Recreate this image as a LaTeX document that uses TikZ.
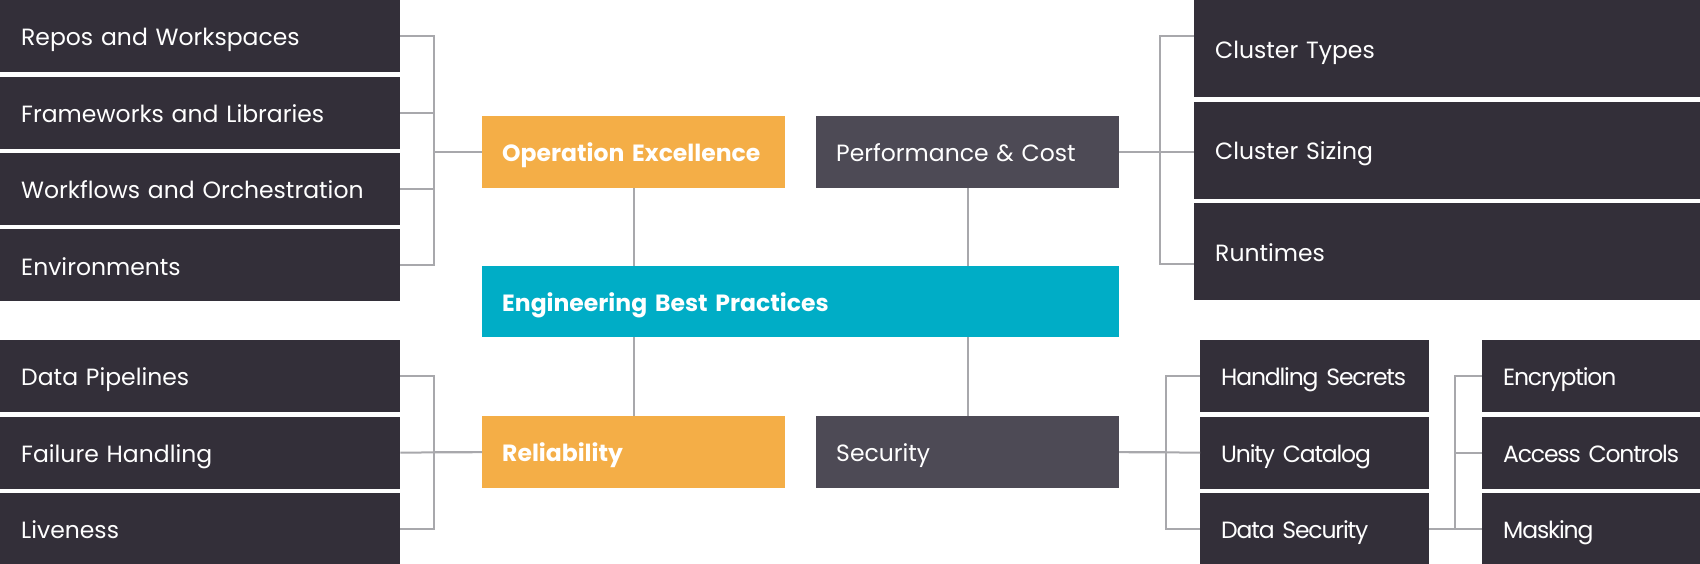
\documentclass[tikz,border=0pt]{standalone}
\usepackage{fontspec}
\setmainfont{Poppins}
\newfontfamily\tightfont[LetterSpace=-5]{Poppins}
\usetikzlibrary{positioning}
\definecolor{boxdark}{HTML}{332F39}
\definecolor{boxgrey}{HTML}{4D4A55}
\definecolor{bporange}{HTML}{F4AE47}
\definecolor{bpteal}{HTML}{00ADC6}
\definecolor{linegrey}{HTML}{A8A8AC}
\tikzstyle{item} = [rectangle, fill=boxdark, text=white, anchor=north west, inner ysep=0pt, inner xsep=21pt, minimum height=72pt, text height=19.5pt, text depth=0pt, align=left, font=\fontsize{23.5}{28}\selectfont]
\tikzstyle{leftitem} = [item, text width=358pt]
\tikzstyle{wideitem} = [item, text width=464pt, minimum height=97pt]
\tikzstyle{smallitem} = [item, text width=187pt, font=\tightfont\fontsize{23.5}{28}\selectfont]
\tikzstyle{tinyitem} = [item, text width=176pt, font=\tightfont\fontsize{23.5}{28}\selectfont]
\tikzstyle{pillar} = [rectangle, anchor=north west, inner ysep=0pt, inner xsep=20pt, minimum height=72pt, text height=19.5pt, text depth=0pt, text width=263pt, align=left, text=white, font=\bfseries\fontsize{23.5}{28}\selectfont]
\tikzstyle{conn} = [draw=linegrey, line width=2pt]

\begin{document}
\begin{tikzpicture}[x=1pt, y=-1pt]
\useasboundingbox (0,0) rectangle (1700,564);
\fill[white] (0,0) rectangle (1700,564);

% left, operation excellence
\node (repos) [leftitem] at (0,0) {Repos and Workspaces};
\node (frame) [leftitem, below=4pt of repos] {Frameworks and Libraries};
\node (work) [leftitem, below=4pt of frame] {Workflows and Orchestration};
\node (env) [leftitem, below=4pt of work] {Environments};

% left, reliability
\node (pipes) [leftitem] at (0,340) {Data Pipelines};
\node (fail) [leftitem, below=4pt of pipes] {Failure Handling};
\node (live) [leftitem, below=4pt of fail] {Liveness};

% middle
\node (opex) [pillar, fill=bporange] at (482,116) {Operation Excellence};
\node (perf) [pillar, fill=boxgrey, font=\fontsize{23.5}{28}\selectfont] at (816,116) {Performance \& Cost};
\node (eng) [pillar, fill=bpteal, text width=597pt, minimum height=71pt] at (482,266) {Engineering Best Practices};
\node (rel) [pillar, fill=bporange] at (482,416) {Reliability};
\node (sec) [pillar, fill=boxgrey, font=\fontsize{23.5}{28}\selectfont] at (816,416) {Security};

% right, performance and cost
\node (types) [wideitem] at (1194,0) {Cluster Types};
\node (sizing) [wideitem, below=4pt of types] {Cluster Sizing};
\node (runt) [wideitem, below=4pt of sizing] {Runtimes};

% right, security
\node (secrets) [smallitem] at (1200,340) {\mbox{Handling Secrets}};
\node (unity) [smallitem, below=4pt of secrets] {Unity Catalog};
\node (dsec) [smallitem, below=4pt of unity] {Data Security};
\node (encr) [tinyitem] at (1482,340) {Encryption};
\node (access) [tinyitem, below=4pt of encr] {\mbox{Access Controls}};
\node (mask) [tinyitem, below=4pt of access] {Masking};

\draw [conn] (repos.east) -- ++(34,0) |- (opex.west);
\draw [conn] (env.east) -- ++(34,0) |- (opex.west);
\draw [conn] (frame.east) -- ++(34,0);
\draw [conn] (work.east) -- ++(34,0);

\draw [conn] (pipes.east) -- ++(34,0) |- (rel.west);
\draw [conn] (live.east) -- ++(34,0) |- (rel.west);
\draw [conn] (fail.east) -- (rel.west);

\draw [conn] (opex.south) -- (opex.south |- eng.north);
\draw [conn] (perf.south) -- (perf.south |- eng.north);
\draw [conn] (rel.north) -- (rel.north |- eng.south);
\draw [conn] (sec.north) -- (sec.north |- eng.south);

\draw [conn] (perf.east) -- ++(41,0) |- ([yshift=12.5pt]types.west);
\draw [conn] (perf.east) -- ++(41,0) |- ([yshift=-12.5pt]runt.west);
\draw [conn] (perf.east) -- (perf.east -| sizing.west);

\draw [conn] (sec.east) -- ++(47,0) |- (secrets.west);
\draw [conn] (sec.east) -- ++(47,0) |- (dsec.west);
\draw [conn] (sec.east) -- (unity.west);

\draw [conn] (dsec.east) -- ++(26,0) |- (encr.west);
\draw [conn] (dsec.east) -- ++(26,0) |- (access.west);
\draw [conn] (dsec.east) -- (mask.west);
\end{tikzpicture}
\end{document}
